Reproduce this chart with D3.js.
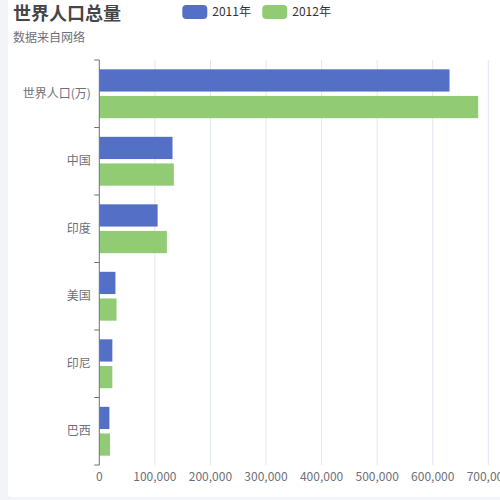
<!DOCTYPE html>
<html>
<head>
<meta charset="utf-8">
<script src="https://cdn.jsdelivr.net/npm/d3@7"></script>
<style>
  html, body { margin: 0; padding: 0; background: #f3f4f8; overflow: hidden; }
  svg { display: block; font-family: "Noto Sans CJK SC", "Noto Sans", sans-serif; }
</style>
</head>
<body>
<div id="chart"></div>
<script>
// données du graphique
const categories = ['世界人口(万)', '中国', '印度', '美国', '印尼', '巴西'];
const seriesNames = ['2011年', '2012年'];
const values2011 = [630230, 131744, 104970, 29034, 23489, 18203];
const values2012 = [681807, 134141, 121594, 31000, 23438, 19325];
const xTicks = [0, 100000, 200000, 300000, 400000, 500000, 600000, 700000];
const colors = ['#5470c6', '#91cc75'];

const W = 500, H = 500;
const margin = { top: 60, left: 99.3, bottom: 35 };
const plotH = 465 - margin.top;

const svg = d3.select('#chart').append('svg')
    .attr('width', W)
    .attr('height', H);

// carte blanche
svg.append('rect')
    .attr('x', 8).attr('y', -10)
    .attr('width', 520).attr('height', 507)
    .attr('rx', 4)
    .attr('fill', '#fff');

const g = svg.append('g')
    .attr('transform', `translate(${margin.left},${margin.top})`);

const xScale = d3.scaleLinear()
    .domain([0, 700000])
    .range([0, 389]);

const yScale = d3.scaleBand()
    .domain(categories)
    .range([0, plotH]);

const inner = d3.scaleBand()
    .domain(seriesNames)
    .range([0, yScale.bandwidth()])
    .paddingInner(0.165)
    .paddingOuter(0.35);

// grille verticale
g.selectAll('.grid')
    .data(xTicks.slice(1))
    .enter().append('line')
    .attr('x1', d => xScale(d)).attr('x2', d => xScale(d))
    .attr('y1', 0).attr('y2', plotH)
    .attr('stroke', '#e0e6f1')
    .attr('stroke-width', 1);

// barres
const rows = categories.map((c, i) => ({ cat: c, vals: [values2011[i], values2012[i]] }));
const rowG = g.selectAll('.row')
    .data(rows)
    .enter().append('g')
    .attr('transform', d => `translate(0,${yScale(d.cat)})`);

rowG.selectAll('rect')
    .data(d => d.vals.map((v, k) => ({ name: seriesNames[k], v: v, k: k })))
    .enter().append('rect')
    .attr('x', 0)
    .attr('y', d => inner(d.name))
    .attr('width', d => xScale(d.v))
    .attr('height', inner.bandwidth())
    .attr('fill', d => colors[d.k]);

// axe Y
const yAxis = g.append('g');
yAxis.append('line')
    .attr('x1', 0).attr('x2', 0)
    .attr('y1', 0).attr('y2', plotH)
    .attr('stroke', '#6e7079');
const boundaries = categories.map(c => yScale(c)).concat([plotH]);
yAxis.selectAll('.tick')
    .data(boundaries)
    .enter().append('line')
    .attr('x1', -5).attr('x2', 0)
    .attr('y1', d => d).attr('y2', d => d)
    .attr('stroke', '#6e7079');
yAxis.selectAll('.label')
    .data(categories)
    .enter().append('text')
    .attr('x', -8.5)
    .attr('y', d => yScale(d) + yScale.bandwidth() / 2)
    .attr('dy', '0.35em')
    .attr('text-anchor', 'end')
    .attr('fill', '#6e7079')
    .style('font-size', '12px')
    .text(d => d);

// axe X (étiquettes seulement)
g.selectAll('.xlabel')
    .data(xTicks)
    .enter().append('text')
    .attr('x', d => xScale(d))
    .attr('y', plotH + 16)
    .attr('text-anchor', 'middle')
    .attr('fill', '#6e7079')
    .style('font-size', '12px')
    .text(d => d3.format(',')(d));

// titre
svg.append('text')
    .attr('x', 13).attr('y', 20)
    .attr('fill', '#464646')
    .style('font-size', '18px')
    .style('font-weight', 'bold')
    .text('世界人口总量');

svg.append('text')
    .attr('x', 13).attr('y', 42)
    .attr('fill', '#6e7079')
    .style('font-size', '12px')
    .text('数据来自网络');

// légende
const legendX = [182.3, 262.3];
const legend = svg.selectAll('.legend')
    .data(seriesNames)
    .enter().append('g')
    .attr('transform', (d, i) => `translate(${legendX[i]},5)`);
legend.append('rect')
    .attr('width', 25).attr('height', 14)
    .attr('rx', 4)
    .attr('fill', (d, i) => colors[i]);
legend.append('text')
    .attr('x', 30).attr('y', 7)
    .attr('dy', '0.35em')
    .attr('fill', '#333')
    .style('font-size', '12px')
    .text(d => d);
</script>
</body>
</html>
